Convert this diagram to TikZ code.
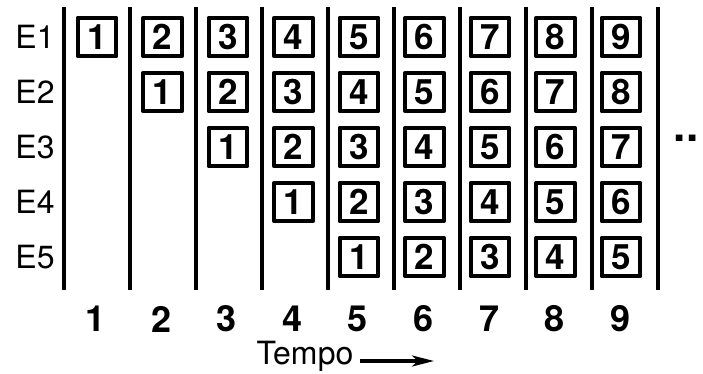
\documentclass[tikz,border=0pt]{standalone}
\usepackage{fontspec}
\setmainfont{TeX Gyre Heros}
\usetikzlibrary{arrows.meta}
\begin{document}
\begin{tikzpicture}[x=1pt, y={(0pt,-1pt)}, >=stealth, line join=round,
  cell/.style={draw, line width=4.2pt, minimum size=38.5pt, inner sep=0pt,
    font=\fontsize{35}{37}\selectfont\bfseries},
  rowlab/.style={font=\fontsize{32}{34}\selectfont},
  collab/.style={font=\fontsize{36}{38}\selectfont\bfseries},
  sep/.style={line width=3.8pt}]
	\useasboundingbox (0,0) rectangle (703,374);
	% separators
	\foreach \k in {0,...,9} {
		\coordinate (t\k) at (64+66*\k,7);
		\coordinate (b\k) at (64+66*\k,290);
		\draw[sep] (t\k) -- (b\k);
	}
	% stages
	\foreach \r in {1,...,5}
		\node[rowlab] (E\r) at (35,37+55*\r-55) {E\r};
	% instructions in the pipe
	\foreach \r in {1,...,5} {
		\foreach \c in {\r,...,9} {
			\pgfmathtruncatemacro{\n}{\c-\r+1}
			\node[cell] (c\r\c) at (97+65.5*\c-65.5,37+55*\r-55) {\n};
		}
	}
	% time axis
	\foreach \c in {1,...,9}
		\node[collab] (n\c) at (96+65.5*\c-65.5,319) {\c};
	\node[collab, font=\fontsize{44}{44}\selectfont\bfseries] (dots) at (686,138) {..};
	\node[rowlab] (tempo) at (305,356) {Tempo};
	\coordinate (tend) at (434,361);
	\draw[-{Stealth[length=22pt,width=11pt,inset=6pt]}, line width=3.5pt] (tempo.east |- tend) ++(3,0) -- (tend);
\end{tikzpicture}
\end{document}
